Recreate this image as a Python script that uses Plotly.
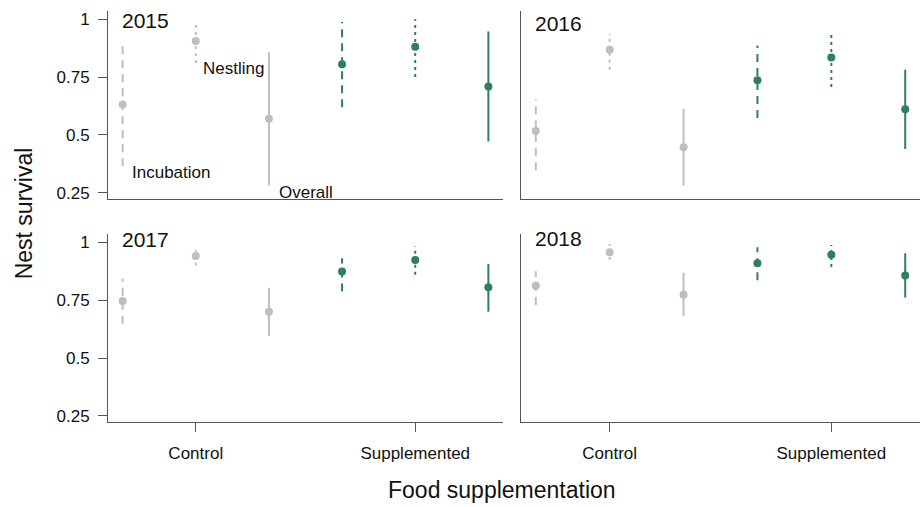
import plotly.graph_objects as go

# ---------------- data ----------------
years = ["2015", "2016", "2017", "2018"]
groups = ["Control", "Supplemented"]
stages = ["Incubation", "Nestling", "Overall"]

# order in each list: Control (Incubation, Nestling, Overall), Supplemented (Incubation, Nestling, Overall)
est_2015 = [0.631, 0.906, 0.570, 0.805, 0.881, 0.709]
lo_2015 = [0.364, 0.810, 0.281, 0.619, 0.750, 0.471]
hi_2015 = [0.895, 0.990, 0.857, 0.988, 0.999, 0.947]

est_2016 = [0.517, 0.868, 0.447, 0.736, 0.834, 0.611]
lo_2016 = [0.347, 0.781, 0.281, 0.573, 0.707, 0.439]
hi_2016 = [0.655, 0.936, 0.613, 0.886, 0.946, 0.781]

est_2017 = [0.747, 0.941, 0.700, 0.874, 0.924, 0.806]
lo_2017 = [0.648, 0.900, 0.595, 0.788, 0.860, 0.700]
hi_2017 = [0.844, 0.968, 0.804, 0.931, 0.983, 0.907]

est_2018 = [0.812, 0.957, 0.774, 0.910, 0.946, 0.857]
lo_2018 = [0.729, 0.924, 0.683, 0.836, 0.893, 0.762]
hi_2018 = [0.875, 0.993, 0.868, 0.979, 0.989, 0.953]

y_ticks = [0.25, 0.5, 0.75, 1]
y_tick_labels = ["0.25", "0.5", "0.75", "1"]

# ---------------- style ----------------
FONT = "Liberation Sans, Arial, sans-serif"
GREY = "#BEBEBE"
GREEN = "#2F7D65"
AXC = "#555555"
group_colors = [GREY, GREEN]
stage_dash = ["8px,6px", "3px,4px", "solid"]
offsets = [-1 / 3, 0, 1 / 3]

XL = [108 / 923, 503 / 923]
XR = [521 / 923, 920 / 923]
YT = [1 - 199.8 / 507, 1 - 10.1 / 507]
YB = [1 - 424.8 / 507, 1 - 235.1 / 507]
XRANGE = [0.6, 2.4]
YRANGE = [0.222, 1.035]

panels = [
    # year, est, lo, hi, axis index, xdomain, ydomain, is_left, is_bottom, label y
    ("2015", est_2015, lo_2015, hi_2015, 1, XL, YT, True, False, 0.993),
    ("2016", est_2016, lo_2016, hi_2016, 2, XR, YT, False, False, 0.979),
    ("2017", est_2017, lo_2017, hi_2017, 3, XL, YB, True, True, 1.014),
    ("2018", est_2018, lo_2018, hi_2018, 4, XR, YB, False, True, 1.016),
]

fig = go.Figure()
layout = {}
annotations = []

for year, est, lo, hi, k, xd, yd, is_left, is_bottom, ly in panels:
    xa = "x" if k == 1 else f"x{k}"
    ya = "y" if k == 1 else f"y{k}"
    for gi, g in enumerate(groups):
        for si, s in enumerate(stages):
            i = gi * 3 + si
            xpos = gi + 1 + offsets[si]
            fig.add_trace(go.Scatter(
                x=[xpos, xpos], y=[lo[i], hi[i]], mode="lines",
                line=dict(color=group_colors[gi], width=2, dash=stage_dash[si]),
                xaxis=xa, yaxis=ya, showlegend=False, hoverinfo="skip"))
            fig.add_trace(go.Scatter(
                x=[xpos], y=[est[i]], mode="markers",
                marker=dict(color=group_colors[gi], size=8),
                xaxis=xa, yaxis=ya, showlegend=False,
                name=f"{year} {g} {s}"))

    layout["xaxis" if k == 1 else f"xaxis{k}"] = dict(
        domain=xd, range=XRANGE, anchor=ya, showgrid=False, zeroline=False,
        showline=True, linecolor=AXC, linewidth=1,
        tickvals=[1, 2], ticktext=groups,
        ticks="outside" if is_bottom else "", ticklen=9, tickcolor=AXC,
        showticklabels=is_bottom, ticklabelstandoff=6,
        tickfont=dict(family=FONT, size=17, color="#111"))
    layout["yaxis" if k == 1 else f"yaxis{k}"] = dict(
        domain=yd, range=YRANGE, anchor=xa, showgrid=False, zeroline=False,
        showline=True, linecolor=AXC, linewidth=1,
        tickvals=y_ticks, ticktext=y_tick_labels,
        ticks="outside" if is_left else "", ticklen=9, tickcolor=AXC,
        showticklabels=is_left, ticklabelstandoff=5,
        tickfont=dict(family=FONT, size=17, color="#111"))

    annotations.append(dict(
        text=year, x=0.655, y=ly, xref=xa, yref=ya, xanchor="left", yanchor="middle",
        showarrow=False, font=dict(family=FONT, size=21, color="#111")))

# stage labels in the 2015 panel
stage_label_pos = [(0.699, 0.336), (1.023, 0.786), (1.371, 0.253)]
for s, (ax_, ay_) in zip(stages, stage_label_pos):
    annotations.append(dict(
        text=s, x=ax_, y=ay_, xref="x", yref="y", xanchor="left", yanchor="middle",
        showarrow=False, font=dict(family=FONT, size=17, color="#111")))

annotations.append(dict(
    text="Nest survival", x=24 / 923, y=1 - 214 / 507, xref="paper", yref="paper",
    xanchor="center", yanchor="middle", textangle=-90, showarrow=False,
    font=dict(family=FONT, size=23, color="#111")))
annotations.append(dict(
    text="Food supplementation", x=502 / 923, y=1 - 493 / 507, xref="paper", yref="paper",
    xanchor="center", yanchor="middle", showarrow=False,
    font=dict(family=FONT, size=23, color="#111")))

fig.update_layout(
    width=923, height=507,
    margin=dict(l=0, r=0, t=0, b=0),
    paper_bgcolor="white", plot_bgcolor="white",
    annotations=annotations,
    **layout)

fig.write_html(
    "out.html",
    config={"displayModeBar": False},
    post_script="document.body.style.margin='0px';document.body.style.overflow='hidden';")
